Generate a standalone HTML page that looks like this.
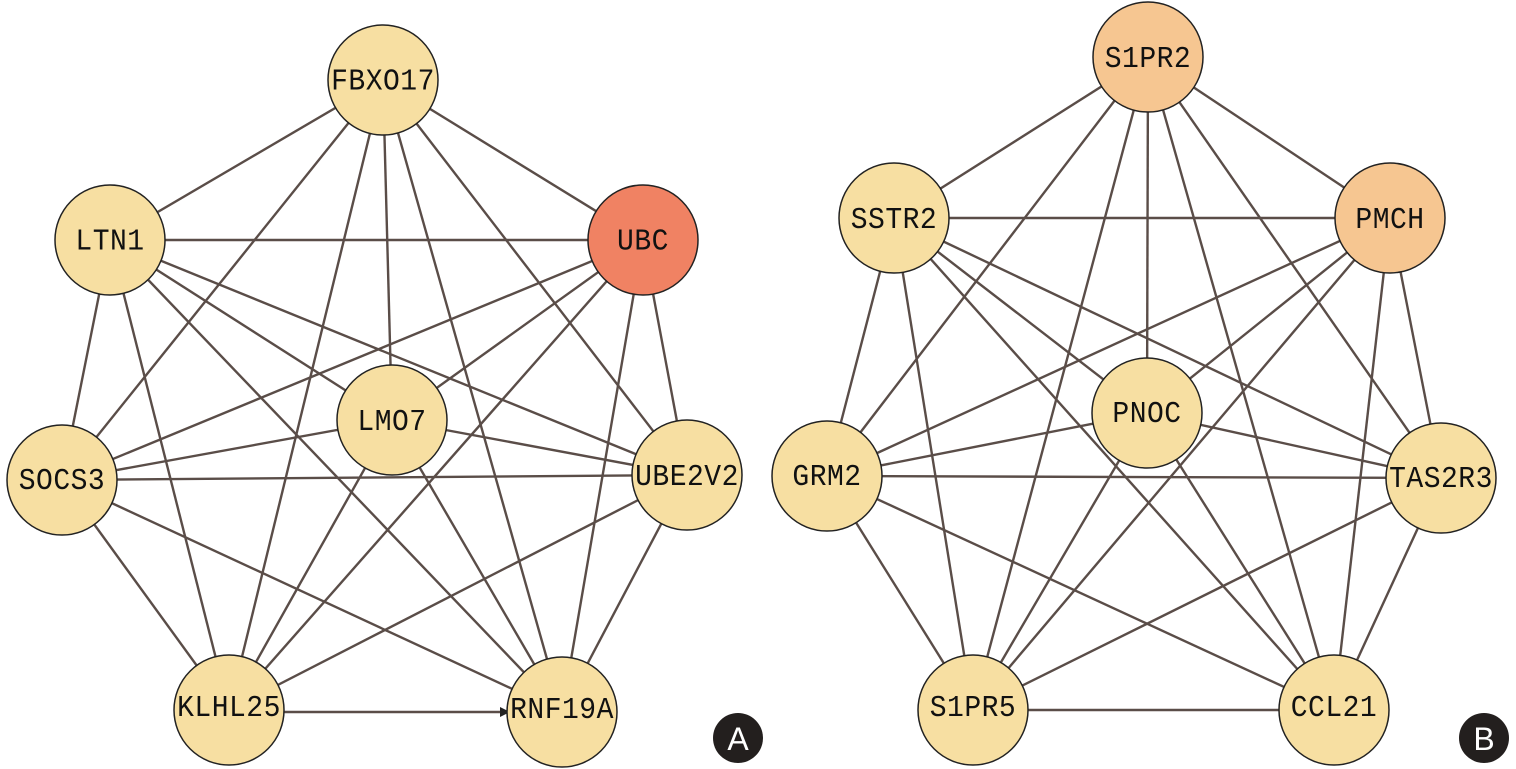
<!DOCTYPE html>
<html><head><style>body{margin:0;background:#fff}svg{display:block}</style></head><body>
<svg width="1516" height="769" xmlns="http://www.w3.org/2000/svg">
<g stroke="#5a4d48" stroke-width="2.4">
<line x1="383" y1="80" x2="110" y2="240"/><line x1="383" y1="80" x2="643" y2="240"/><line x1="383" y1="80" x2="392" y2="420"/><line x1="383" y1="80" x2="62" y2="480"/><line x1="383" y1="80" x2="687" y2="475"/><line x1="383" y1="80" x2="229" y2="710"/><line x1="383" y1="80" x2="562" y2="712"/>
<line x1="110" y1="240" x2="643" y2="240"/><line x1="110" y1="240" x2="392" y2="420"/><line x1="110" y1="240" x2="62" y2="480"/><line x1="110" y1="240" x2="687" y2="475"/><line x1="110" y1="240" x2="229" y2="710"/><line x1="110" y1="240" x2="562" y2="712"/>
<line x1="643" y1="240" x2="392" y2="420"/><line x1="643" y1="240" x2="62" y2="480"/><line x1="643" y1="240" x2="687" y2="475"/><line x1="643" y1="240" x2="229" y2="710"/><line x1="643" y1="240" x2="562" y2="712"/>
<line x1="392" y1="420" x2="62" y2="480"/><line x1="392" y1="420" x2="687" y2="475"/><line x1="392" y1="420" x2="229" y2="710"/><line x1="392" y1="420" x2="562" y2="712"/>
<line x1="62" y1="480" x2="687" y2="475"/><line x1="62" y1="480" x2="229" y2="710"/><line x1="62" y1="480" x2="562" y2="712"/>
<line x1="687" y1="475" x2="229" y2="710"/><line x1="687" y1="475" x2="562" y2="712"/>
<line x1="229" y1="712" x2="505" y2="712"/>
<line x1="1148" y1="57" x2="894" y2="218"/><line x1="1148" y1="57" x2="1390" y2="218"/><line x1="1148" y1="57" x2="1147" y2="413"/><line x1="1148" y1="57" x2="827" y2="476"/><line x1="1148" y1="57" x2="1441" y2="478"/><line x1="1148" y1="57" x2="973" y2="710"/><line x1="1148" y1="57" x2="1334" y2="710"/>
<line x1="894" y1="218" x2="1390" y2="218"/><line x1="894" y1="218" x2="1147" y2="413"/><line x1="894" y1="218" x2="827" y2="476"/><line x1="894" y1="218" x2="1441" y2="478"/><line x1="894" y1="218" x2="973" y2="710"/><line x1="894" y1="218" x2="1334" y2="710"/>
<line x1="1390" y1="218" x2="1147" y2="413"/><line x1="1390" y1="218" x2="827" y2="476"/><line x1="1390" y1="218" x2="1441" y2="478"/><line x1="1390" y1="218" x2="973" y2="710"/><line x1="1390" y1="218" x2="1334" y2="710"/>
<line x1="1147" y1="413" x2="827" y2="476"/><line x1="1147" y1="413" x2="1441" y2="478"/><line x1="1147" y1="413" x2="973" y2="710"/><line x1="1147" y1="413" x2="1334" y2="710"/>
<line x1="827" y1="476" x2="1441" y2="478"/><line x1="827" y1="476" x2="973" y2="710"/><line x1="827" y1="476" x2="1334" y2="710"/>
<line x1="1441" y1="478" x2="973" y2="710"/><line x1="1441" y1="478" x2="1334" y2="710"/>
<line x1="973" y1="710" x2="1334" y2="710"/>
</g>
<polygon points="510,712 500,707 500,717" fill="#222"/>
<g stroke="#222" stroke-width="1.5" fill="#f7dfa2">
<circle cx="383" cy="80" r="55"/><circle cx="110" cy="240" r="55"/><circle cx="643" cy="240" r="55" fill="#f08263"/><circle cx="392" cy="420" r="55"/><circle cx="62" cy="480" r="55"/><circle cx="687" cy="475" r="55"/><circle cx="229" cy="710" r="55"/><circle cx="562" cy="712" r="55"/>
<circle cx="1148" cy="57" r="55" fill="#f6c691"/><circle cx="894" cy="218" r="55"/><circle cx="1390" cy="218" r="55" fill="#f6c691"/><circle cx="1147" cy="413" r="55"/><circle cx="827" cy="476" r="55"/><circle cx="1441" cy="478" r="55"/><circle cx="973" cy="710" r="55"/><circle cx="1334" cy="710" r="55"/>
</g>
<g font-family="Liberation Mono, monospace" font-size="28" text-anchor="middle" fill="#111" letter-spacing="0.5">
<g transform="translate(0,-40) scale(1,1.08)">
<text x="383" y="120">FBXO17</text><text x="110" y="268">LTN1</text><text x="643" y="268">UBC</text><text x="392" y="435">LMO7</text><text x="62" y="490">SOCS3</text><text x="687" y="486">UBE2V2</text><text x="229" y="700">KLHL25</text><text x="562" y="702">RNF19A</text>
<text x="1148" y="99">S1PR2</text><text x="894" y="248">SSTR2</text><text x="1390" y="248">PMCH</text><text x="1147" y="428">PNOC</text><text x="827" y="486">GRM2</text><text x="1441" y="488">TAS2R3</text><text x="973" y="700">S1PR5</text><text x="1334" y="700">CCL21</text>
</g>
</g>
<circle cx="738" cy="738" r="25" fill="#231f1e"/><text x="738" y="750" font-family="Liberation Sans, sans-serif" font-size="32" fill="#fff" text-anchor="middle">A</text>
<circle cx="1484" cy="738" r="25" fill="#231f1e"/><text x="1484" y="750" font-family="Liberation Sans, sans-serif" font-size="32" fill="#fff" text-anchor="middle">B</text>
</svg>
</body></html>
